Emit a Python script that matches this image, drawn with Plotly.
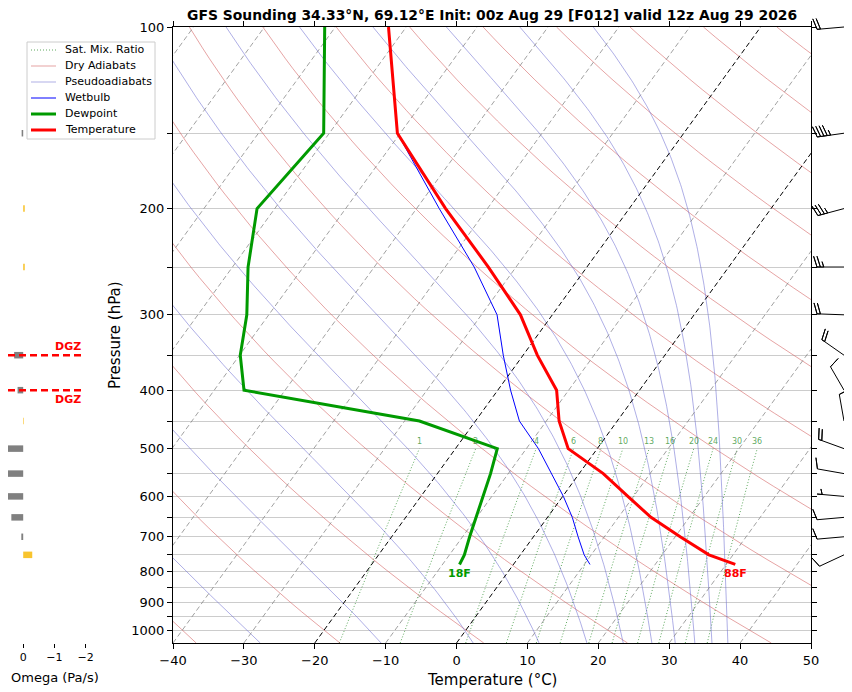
import numpy as np
import plotly.graph_objects as go

# %% sounding values (hPa, degC)
pressure = [778, 750, 700, 650, 600, 550, 500, 450, 400, 350, 300, 250, 200, 150, 100]
temperature = [31.3, 26.6, 20.7, 14.6, 9.2, 3.4, -4.1, -8.2, -11.7, -18.0, -24.5, -33.9, -45.9, -60.4, -72.5]
dewpoint = [-7.6, -7.9, -9.0, -10.1, -11.2, -12.5, -14.1, -27.9, -55.8, -59.9, -63.1, -67.8, -72.5, -70.8, -81.5]
wetbulb = [10.8, 9.0, 6.3, 3.5, 0.1, -3.9, -8.3, -13.8, -18.2, -22.8, -27.8, -35.9, -46.8, -60.4, -72.5]

# winds: speed (kt) and direction (deg)
wind_p = [750, 700, 650, 600, 550, 500, 450, 400, 350, 300, 250, 200, 150, 100]
wind_spd = [10, 10, 10, 5, 10, 20, 10, 10, 20, 20, 25, 35, 45, 20]
wind_dir = [245, 265, 265, 275, 280, 290, 350, 330, 305, 272, 270, 255, 262, 265]

# omega (Pa/s)
omega_p = [750, 700, 650, 600, 550, 500, 450, 400, 350, 300, 250, 200, 150, 100]
omega = [-0.29, 0.06, 0.38, 0.62, 0.58, 0.6, -0.02, 0.18, 0.29, 0.0, -0.05, -0.05, 0.05, 0.0]

# dendritic growth zone bounds (hPa)
dgz = [400, 350]

# background line families
mix_ratios = [1, 2, 4, 6, 8, 10, 13, 16, 20, 24, 30, 36]  # g/kg
dry_thetas = [-40, -20, 0, 20, 40, 60, 80, 100, 120, 140, 160, 180, 200, 220]  # degC at 1000 hPa
moist_tops = [-30, -10, 10, 30, 50, 70, 90, 110, 130, 150, 170]  # theta degC at 100 hPa
isotherms = [-100, -90, -80, -70, -60, -50, -40, -30, -20, -10, 0, 10, 20, 30, 40, 50]
black_isotherms = [-20, 0]

title = "GFS Sounding 34.33°N, 69.12°E Init: 00z Aug 29 [F012] valid 12z Aug 29 2026"

# %% layout constants (page has an 8px body margin)
OFF = 8
FW, FH = 852 - OFF, 692 - OFF
P_BOT, P_TOP = 1050.0, 100.0
SKEW = 62.9  # degC of skew over the full height
FONT = "DejaVu Sans"


def fx(px):
    return (px - OFF) / FW


def fy(py):
    return 1 - (py - OFF) / FH


main_x = [fx(173), fx(811)]
main_y = [fy(643), fy(27)]
yrange = [np.log10(P_BOT), np.log10(P_TOP)]
omega_dom = [fx(8), fx(92)]
omega_range = [0.487, -2.205]

# line styles
st_mix = dict(color="rgba(40,140,40,0.75)", width=1, dash="1px,2px")
st_dry = dict(color="rgba(210,90,90,0.55)", width=1)
st_moist = dict(color="rgba(110,110,210,0.55)", width=1)
st_wet = dict(color="#0000ff", width=1)
st_dew = dict(color="#009a00", width=3)
st_temp = dict(color="#ff0000", width=3)


def skew(t, p):
    return np.asarray(t) + SKEW * np.log10(P_BOT / np.asarray(p)) / np.log10(P_BOT / P_TOP)


def dewpoint_from_w(w, p):
    wk = w / 1000.0
    e = p * wk / (0.622 + wk)
    a = np.log(e / 6.112)
    return 243.5 * a / (17.67 - a)


def moist_adiabat(theta_top):
    p = np.geomspace(P_TOP, P_BOT, 220)
    t = np.empty_like(p)
    t[0] = (theta_top + 273.15) * (P_TOP / 1000.0) ** 0.2857

    def f(tk, pp):
        es = 6.112 * np.exp(17.67 * (tk - 273.15) / (tk - 29.65))
        rs = 0.622 * es / (pp - es)
        return (287.04 * tk + 2.501e6 * rs) / (1005.7 + 2.501e6 ** 2 * rs * 0.622 / (287.04 * tk ** 2)) / pp

    for i in range(len(p) - 1):
        h = p[i + 1] - p[i]
        k1 = f(t[i], p[i])
        k2 = f(t[i] + h / 2 * k1, p[i] + h / 2)
        k3 = f(t[i] + h / 2 * k2, p[i] + h / 2)
        k4 = f(t[i] + h * k3, p[i + 1])
        t[i + 1] = t[i] + h / 6 * (k1 + 2 * k2 + 2 * k3 + k4)
    return p, t - 273.15


fig = go.Figure()

# mixing ratio lines
p_mix = np.geomspace(P_BOT, 500, 30)
for w in mix_ratios:
    td = dewpoint_from_w(w, p_mix)
    fig.add_trace(go.Scatter(x=skew(td, p_mix), y=p_mix, mode="lines", line=st_mix, hoverinfo="skip"))

# dry adiabats
p_dry = np.geomspace(P_BOT, P_TOP, 60)
for th in dry_thetas:
    t = (th + 273.15) * (p_dry / 1000.0) ** 0.2857 - 273.15
    fig.add_trace(go.Scatter(x=skew(t, p_dry), y=p_dry, mode="lines", line=st_dry, hoverinfo="skip"))

# pseudoadiabats
for th in moist_tops:
    pm, tm = moist_adiabat(th)
    fig.add_trace(go.Scatter(x=skew(tm, pm), y=pm, mode="lines", line=st_moist, hoverinfo="skip"))

# isotherms
for t in isotherms:
    col = "black" if t in black_isotherms else "rgba(130,130,130,0.75)"
    fig.add_trace(go.Scatter(
        x=skew([t, t], [P_BOT, P_TOP]), y=[P_BOT, P_TOP], mode="lines",
        line=dict(color=col, width=1, dash="5px,3px"), hoverinfo="skip",
    ))

# profiles
fig.add_trace(go.Scatter(x=skew(wetbulb, pressure), y=pressure, mode="lines", line=st_wet, name="Wetbulb"))
fig.add_trace(go.Scatter(x=skew(dewpoint, pressure), y=pressure, mode="lines", line=st_dew, name="Dewpoint"))
fig.add_trace(go.Scatter(x=skew(temperature, pressure), y=pressure, mode="lines", line=st_temp,
                         name="Temperature"))

# omega bars on the left panel
for p, om in zip(omega_p, omega):
    if om == 0:
        continue
    col = "#808080" if om > 0 else "#f8c42e"
    fig.add_trace(go.Scatter(
        x=[0, om], y=[p, p], mode="lines", line=dict(color=col, width=6.5),
        xaxis="x2", yaxis="y2", hoverinfo="skip",
    ))

# DGZ lines across the omega panel
dgz_x = [omega_range[0], omega_range[0] + 0.895 * (omega_range[1] - omega_range[0])]
for p in dgz:
    fig.add_trace(go.Scatter(
        x=dgz_x, y=[p, p], mode="lines", line=dict(color="#ff0000", width=2.5, dash="7px,4px"),
        xaxis="x2", yaxis="y2", hoverinfo="skip",
    ))

# wind barbs on an overlay axis (x in pixels right of the plot)
plot_h = (main_y[1] - main_y[0]) * FH
log_per_px = (yrange[0] - yrange[1]) / plot_h
k = (yrange[0] - yrange[1]) / (main_y[1] - main_y[0])
barb_yrange = [yrange[0] + main_y[0] * k, yrange[1] - (1 - main_y[1]) * k]
BARB_LEN = 27.0
BARB_X = 33.0


def barb_vertices(speed, direction, length=BARB_LEN):
    spacing, height, width = 0.125 * length, 0.4 * length, 0.25 * length
    s = int(5 * round(speed / 5.0))
    nflags, s = divmod(s, 50)
    nbarbs, s = divmod(s, 10)
    half = s >= 5
    verts = [(0.0, 0.0)]
    offset = length
    for i in range(nflags):
        if offset != length:
            offset += spacing / 2
        verts += [(0, offset), (height, offset - width / 2), (0, offset - width)]
        offset -= width + spacing
    for i in range(nbarbs):
        verts += [(0, offset), (height, offset + width / 2), (0, offset)]
        offset -= spacing
    if half:
        if offset == length:
            verts.append((0, offset))
            offset -= 1.5 * spacing
        verts += [(0, offset), (height / 2, offset + width / 4), (0, offset)]
    d = np.deg2rad(direction)
    u, v = -speed * np.sin(d), -speed * np.cos(d)
    phi = np.arctan2(v, u) + np.pi / 2
    vx = np.array([a for a, b in verts])
    vy = np.array([b for a, b in verts])
    return vx * np.cos(phi) - vy * np.sin(phi), vx * np.sin(phi) + vy * np.cos(phi)


for p, spd, dr in zip(wind_p, wind_spd, wind_dir):
    dx, dy = barb_vertices(spd, dr)
    fig.add_trace(go.Scatter(
        x=BARB_X + dx, y=10 ** (np.log10(p) - dy * log_per_px), mode="lines",
        line=dict(color="black", width=1), xaxis="x3", yaxis="y3", hoverinfo="skip",
    ))

# %% annotations
ann = []
for w in mix_ratios:
    ann.append(dict(x=float(skew(dewpoint_from_w(w, 500.0), 500.0)), y=np.log10(500), xref="x", yref="y",
                    text=str(w), showarrow=False, yanchor="bottom", yshift=1,
                    font=dict(size=8, color="rgba(40,140,40,0.75)", family=FONT)))
t_f = round(temperature[0] * 9 / 5 + 32)
td_f = round(dewpoint[0] * 9 / 5 + 32)
ann.append(dict(x=float(skew(temperature[0], pressure[0])), y=np.log10(pressure[0]), xref="x", yref="y",
                text=f"{t_f}F", showarrow=False, yanchor="top", yshift=-1,
                font=dict(size=11, color="#ff0000", family=FONT, weight="bold")))
ann.append(dict(x=float(skew(dewpoint[0], pressure[0])), y=np.log10(pressure[0]), xref="x", yref="y",
                text=f"{td_f}F", showarrow=False, yanchor="top", yshift=-1,
                font=dict(size=11, color="#009a00", family=FONT, weight="bold")))
ann.append(dict(x=dgz_x[1], y=np.log10(dgz[1]), xref="x2", yref="y2", text="DGZ", showarrow=False,
                xanchor="right", yanchor="middle", yshift=9,
                font=dict(size=11, color="#ff0000", family=FONT, weight="bold")))
ann.append(dict(x=dgz_x[1], y=np.log10(dgz[0]), xref="x2", yref="y2", text="DGZ", showarrow=False,
                xanchor="right", yanchor="middle", yshift=-9,
                font=dict(size=11, color="#ff0000", family=FONT, weight="bold")))
centered = dict(xref="paper", yref="paper", showarrow=False, xanchor="center", yanchor="middle")
ann.append(dict(x=fx(492), y=fy(15), text=title,
                font=dict(size=13.9, color="black", family=FONT, weight="bold"), **centered))
ann.append(dict(x=fx(492), y=fy(680), text="Temperature (°C)",
                font=dict(size=15, color="black", family=FONT), **centered))
ann.append(dict(x=fx(115), y=fy(335), text="Pressure (hPa)", textangle=-90,
                font=dict(size=15, color="black", family=FONT), **centered))
ann.append(dict(x=fx(55), y=fy(677), text="Omega (Pa/s)",
                font=dict(size=13, color="black", family=FONT), **centered))

# legend drawn as a box with line samples (matplotlib-like compact rows)
legend_items = [("Sat. Mix. Ratio", st_mix), ("Dry Adiabats", st_dry), ("Pseudoadiabats", st_moist),
                ("Wetbulb", st_wet), ("Dewpoint", st_dew), ("Temperature", st_temp)]
shapes = [dict(type="rect", xref="paper", yref="paper", x0=fx(27), x1=fx(155), y0=fy(139), y1=fy(42),
               fillcolor="rgba(255,255,255,0.85)", line=dict(color="#cccccc", width=1), layer="above")]
for i, (label, st) in enumerate(legend_items):
    yc = 50 + 16 * i
    shapes.append(dict(type="line", xref="paper", yref="paper", x0=fx(31), x1=fx(56), y0=fy(yc), y1=fy(yc),
                       line=st, layer="above"))
    ann.append(dict(x=fx(63), y=fy(yc), xref="paper", yref="paper", text=label, showarrow=False,
                    xanchor="left", yanchor="middle", font=dict(size=11, color="black", family=FONT)))

p_ticks = [100, 150, 200, 250, 300, 350, 400, 450, 500, 550, 600, 650, 700, 750, 800, 850, 900, 950, 1000]
p_labels = [str(p) if p % 100 == 0 else "" for p in p_ticks]

fig.update_layout(
    width=FW, height=FH, margin=dict(l=0, r=0, t=0, b=0, autoexpand=False),
    paper_bgcolor="white", plot_bgcolor="white", showlegend=False,
    font=dict(family=FONT, size=13, color="black"),
    annotations=ann, shapes=shapes,
    xaxis=dict(domain=main_x, range=[-40, 50], tickvals=list(range(-40, 51, 10)),
               showgrid=False, zeroline=False, showline=True, linecolor="black", linewidth=1,
               mirror="allticks", ticks="outside", ticklen=5, tickcolor="black",
               tickfont=dict(size=13), anchor="y", automargin=False),
    yaxis=dict(domain=main_y, type="log", range=yrange, tickvals=p_ticks, ticktext=p_labels,
               showgrid=True, gridcolor="#cccccc", gridwidth=1, zeroline=False,
               showline=True, linecolor="black", linewidth=1, mirror="allticks",
               ticks="outside", ticklen=5, tickcolor="black", tickfont=dict(size=13), anchor="x",
               automargin=False),
    xaxis2=dict(domain=omega_dom, range=omega_range, tickvals=[0, -1, -2], showgrid=False,
                zeroline=False, showline=False, ticks="outside", ticklen=4, tickcolor="black",
                tickfont=dict(size=11), anchor="y2", automargin=False),
    yaxis2=dict(domain=main_y, type="log", range=yrange, visible=False, anchor="x2"),
    xaxis3=dict(domain=[fx(811), 1.0], range=[0, 41], visible=False, anchor="y3"),
    yaxis3=dict(domain=[0, 1], type="log", range=barb_yrange, visible=False, anchor="x3"),
)

fig.write_html("out.html")
